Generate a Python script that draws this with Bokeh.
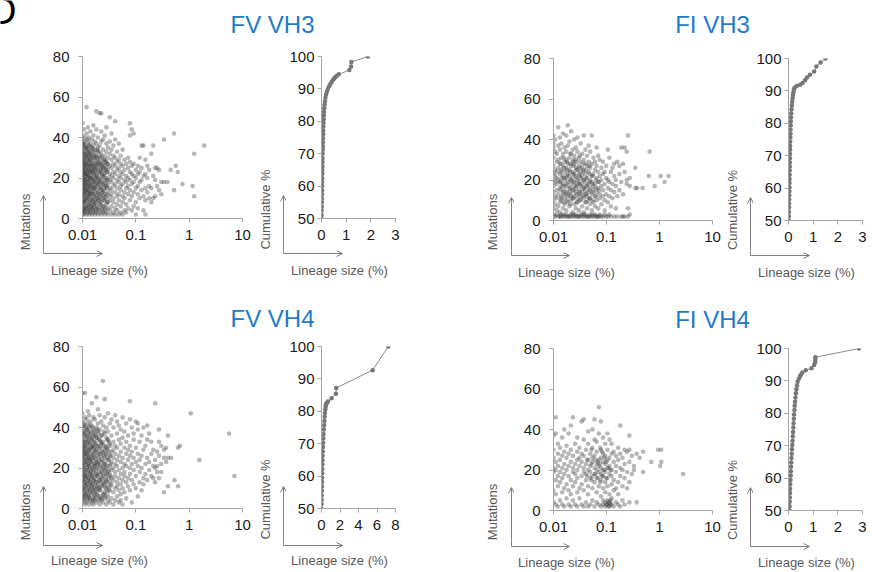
import math
from bokeh.plotting import figure
from bokeh.layouts import column, row
from bokeh.models import Range1d, FixedTicker, Label, Arrow, OpenHead, ColumnDataSource
from bokeh.embed import file_html
from bokeh.resources import INLINE

FONT = "Liberation Sans"
AXIS_GRAY = "#a6a6a6"
LABEL_GRAY = "#595959"
ARROW_GRAY = "#808080"
TITLE_BLUE = "#1f7bc8"
DOT = "#383838"
CUM = "#777777"

panel_titles = ["FV VH3", "FI VH3", "FV VH4", "FI VH4"]
x_label = "Lineage size (%)"
y_label_scatter = "Mutations"
y_label_cum = "Cumulative %"

scatter_ticks = [0.01, 0.1, 1, 10]
scatter_tick_labels = ["0.01", "0.1", "1", "10"]
mut_ticks = [0, 20, 40, 60, 80]
cum_ticks = [50, 60, 70, 80, 90, 100]
cum_x_ticks_3 = [0, 1, 2, 3]
cum_x_ticks_8 = [0, 2, 4, 6, 8]

# ---------------- FV VH3 scatter (lineage size %, mutations per size column) ----
fv3_size = [0.0100, 0.0106, 0.0112, 0.0119, 0.0126, 0.0133, 0.0141, 0.0150, 0.0160, 0.0170,
            0.0182, 0.0195, 0.0210, 0.0225, 0.0242, 0.0260, 0.0280, 0.0300, 0.0325, 0.0350,
            0.0380, 0.0410, 0.0445, 0.0480, 0.0520, 0.0565, 0.0610, 0.0660, 0.0715, 0.0775,
            0.0840, 0.0910, 0.100, 0.109, 0.118, 0.128, 0.139, 0.151, 0.164, 0.178,
            0.195, 0.212, 0.230, 0.250, 0.272, 0.300, 0.337, 0.390, 0.450, 0.520,
            0.560, 0.610, 0.750, 1.16, 1.24, 1.92]
fv3_mut = [
    [2, 3, 4, 6, 8, 9, 11, 12, 14, 15, 17, 18, 19, 21, 22, 24, 25, 27, 28, 30, 32, 34, 36, 39, 41, 47],
    [2, 5, 7, 10, 13, 16, 18, 20, 23, 26, 29, 31, 35, 38, 44],
    [3, 4, 8, 11, 14, 17, 19, 22, 24, 27, 30, 33, 37, 40],
    [2, 6, 9, 12, 15, 18, 21, 23, 26, 28, 32, 35, 42, 55],
    [3, 5, 10, 13, 16, 20, 22, 25, 29, 31, 34, 38, 45],
    [2, 4, 7, 11, 14, 17, 19, 24, 27, 30, 33, 36, 40],
    [3, 6, 9, 12, 15, 18, 21, 23, 26, 29, 32, 37, 43],
    [2, 5, 8, 13, 16, 20, 22, 25, 28, 31, 35, 39],
    [3, 4, 7, 10, 14, 17, 19, 24, 27, 33, 36, 41, 46],
    [2, 6, 9, 12, 15, 18, 21, 23, 26, 30, 34, 38],
    [3, 5, 8, 11, 16, 20, 22, 25, 28, 31, 37, 44, 53],
    [2, 4, 10, 13, 17, 19, 24, 27, 29, 33, 35, 40],
    [3, 7, 9, 12, 15, 18, 22, 26, 30, 36, 52],
    [2, 5, 8, 14, 16, 20, 23, 25, 28, 32, 38, 43, 52],
    [3, 6, 11, 13, 17, 21, 24, 27, 34, 39],
    [2, 4, 9, 12, 15, 19, 22, 26, 29, 31, 41],
    [3, 7, 10, 16, 18, 23, 25, 28, 33, 37, 45],
    [2, 5, 8, 13, 17, 20, 24, 27, 30, 35],
    [4, 9, 11, 15, 19, 22, 26, 32, 38, 50],
    [2, 6, 12, 14, 18, 21, 25, 29, 34, 42],
    [3, 8, 10, 16, 20, 23, 27, 31, 36],
    [2, 5, 13, 17, 22, 26, 30, 39, 48],
    [4, 7, 11, 15, 19, 24, 28, 33],
    [2, 9, 12, 18, 21, 25, 29, 37],
    [3, 6, 14, 16, 20, 23, 27, 31],
    [2, 8, 11, 17, 22, 26, 34],
    [4, 10, 13, 19, 24, 29],
    [3, 7, 15, 18, 21, 27],
    [5, 12, 16, 20, 25, 30],
    [9, 14, 19, 23, 28, 41, 47],
    [4, 11, 17, 22, 26, 44],
    [6, 13, 18, 21, 27, 42],
    [2, 8, 15, 20, 24],
    [5, 12, 16, 22, 26],
    [10, 18, 23, 30],
    [14, 19, 25, 36],
    [4, 11, 21, 36],
    [2, 9, 15, 22, 29],
    [13, 20, 26],
    [10, 16, 24],
    [8, 15, 32],
    [10, 21, 36],
    [11, 19, 25],
    [16, 25],
    [14, 24],
    [12, 18],
    [18, 39],
    [18],
    [24],
    [14, 42],
    [26],
    [23],
    [17],
    [16],
    [11, 32],
    [36],
]
# dense core of the FV VH3 cloud
fv3_core_size = [0.0103, 0.0109, 0.0115, 0.0122, 0.0129, 0.0137, 0.0145, 0.0155, 0.0165,
                 0.0176, 0.0188, 0.0202, 0.0217, 0.0233, 0.0251, 0.0270, 0.0290]
fv3_core_mut = [
    [5, 9, 13, 16, 20, 23, 26, 29, 33, 37],
    [4, 8, 12, 15, 19, 22, 25, 28, 32, 36],
    [6, 10, 14, 17, 21, 24, 27, 31, 35],
    [5, 9, 13, 16, 19, 22, 26, 30, 34, 39],
    [7, 11, 14, 18, 21, 24, 28, 32, 36],
    [4, 8, 12, 16, 20, 23, 26, 29, 33],
    [6, 10, 13, 17, 20, 24, 27, 31, 35],
    [5, 9, 12, 15, 19, 23, 26, 30, 34],
    [7, 11, 15, 18, 22, 25, 29, 32],
    [4, 8, 13, 16, 20, 24, 27, 31],
    [6, 10, 14, 18, 21, 26, 30, 34],
    [5, 9, 12, 17, 20, 23, 28, 33],
    [7, 11, 15, 19, 24, 27, 31],
    [4, 10, 13, 18, 22, 26, 30],
    [6, 9, 14, 17, 21, 25, 29],
    [5, 11, 16, 20, 24, 28],
    [8, 12, 15, 19, 23, 27],
]

# ---------------- FI VH3 scatter ----
fi3_size = [0.0100, 0.0107, 0.0115, 0.0123, 0.0132, 0.0141, 0.0151, 0.0162, 0.0174, 0.0186,
            0.0200, 0.0214, 0.0230, 0.0246, 0.0264, 0.0283, 0.0303, 0.0325, 0.0348, 0.0373,
            0.0400, 0.0429, 0.0460, 0.0493, 0.0528, 0.0566, 0.0607, 0.0650, 0.0697, 0.0747,
            0.0801, 0.0858, 0.0920, 0.0986, 0.106, 0.113, 0.121, 0.130, 0.140, 0.150,
            0.160, 0.175, 0.190, 0.205, 0.220, 0.240, 0.255, 0.275, 0.350, 0.380,
            0.480, 0.630, 0.650, 0.810, 1.05, 1.25, 1.48]
fi3_mut = [
    [2, 3, 6, 10, 14, 17, 20, 23, 27, 31, 36, 38, 42],
    [2, 8, 12, 19, 22, 25, 34, 40],
    [3, 5, 11, 15, 18, 21, 24, 29, 33],
    [2, 7, 13, 20, 26, 30, 37, 46],
    [2, 4, 9, 16, 19, 23, 28, 35, 41],
    [3, 10, 12, 17, 21, 25, 31, 38],
    [2, 6, 14, 18, 22, 27, 33, 43],
    [2, 8, 11, 15, 20, 24, 29, 36],
    [3, 5, 13, 17, 21, 26, 30, 34, 42],
    [2, 9, 12, 19, 23, 28, 37, 47],
    [2, 7, 14, 16, 22, 25, 31, 39],
    [3, 10, 13, 18, 20, 27, 33, 44],
    [2, 4, 11, 15, 21, 24, 29, 35],
    [2, 8, 12, 17, 19, 23, 28, 32, 40],
    [3, 6, 14, 16, 22, 26, 30, 36],
    [2, 9, 11, 18, 20, 25, 34, 41],
    [2, 5, 13, 15, 19, 23, 27, 31],
    [3, 10, 12, 17, 21, 24, 29, 38],
    [2, 7, 14, 18, 22, 26, 33],
    [2, 4, 11, 16, 20, 25, 30, 42],
    [3, 9, 13, 15, 19, 23, 28, 35],
    [2, 6, 12, 17, 21, 27, 32],
    [2, 10, 14, 18, 24, 29, 37],
    [3, 8, 11, 16, 20, 26, 34],
    [2, 5, 13, 19, 22, 28, 42],
    [2, 9, 15, 17, 23, 31],
    [3, 7, 12, 18, 25, 29],
    [2, 10, 14, 21, 27, 36],
    [2, 6, 16, 19, 24, 32],
    [3, 11, 13, 22, 30],
    [2, 8, 17, 20, 26],
    [2, 12, 15, 23, 29],
    [3, 5, 10, 18, 24],
    [2, 13, 21, 27],
    [2, 9, 16, 20, 35],
    [3, 12, 19, 31],
    [2, 7, 15, 24],
    [11, 18, 26],
    [2, 14, 22, 28],
    [6, 17, 20],
    [2, 12, 29],
    [15, 23, 27],
    [2, 19, 36],
    [2, 13, 28],
    [2, 24, 36],
    [18, 20, 34],
    [2, 6, 42],
    [3, 17, 21],
    [16, 26],
    [16],
    [16],
    [22],
    [34],
    [17],
    [22],
    [19],
    [22],
]
fi3_core_size = [0.0137, 0.0157, 0.0180, 0.0207, 0.0238, 0.0273, 0.0314, 0.0361, 0.0414,
                 0.0476, 0.0547, 0.0630, 0.0720]
fi3_core_mut = [
    [2, 11, 15, 19, 24, 28],
    [3, 9, 13, 17, 21, 26, 31],
    [2, 10, 14, 18, 22, 25, 29],
    [2, 8, 12, 16, 20, 24, 28, 33],
    [3, 11, 15, 19, 23, 27, 30],
    [2, 9, 13, 17, 21, 25, 29],
    [2, 10, 14, 18, 22, 26, 32],
    [3, 12, 16, 20, 24, 28],
    [2, 9, 13, 17, 21, 25],
    [2, 11, 15, 19, 23, 27],
    [3, 10, 14, 18, 22],
    [2, 12, 16, 20],
    [2, 15, 19],
]

# ---------------- FV VH4 scatter ----
fv4_size = [0.0100, 0.0106, 0.0112, 0.0119, 0.0126, 0.0133, 0.0141, 0.0150, 0.0160, 0.0170,
            0.0182, 0.0195, 0.0210, 0.0225, 0.0242, 0.0260, 0.0280, 0.0300, 0.0325, 0.0350,
            0.0380, 0.0410, 0.0445, 0.0480, 0.0520, 0.0565, 0.0610, 0.0660, 0.0715, 0.0775,
            0.0840, 0.0910, 0.100, 0.109, 0.118, 0.128, 0.139, 0.151, 0.164, 0.178,
            0.195, 0.212, 0.230, 0.250, 0.272, 0.300, 0.337, 0.370, 0.400, 0.460,
            0.530, 0.620, 0.670, 1.07, 1.55, 5.60, 7.06]
fv4_mut = [
    [3, 5, 7, 9, 12, 14, 16, 18, 20, 22, 24, 26, 28, 30, 32, 35, 37, 40, 43, 47, 57],
    [4, 8, 11, 15, 19, 21, 25, 29, 33, 38, 42],
    [2, 6, 10, 13, 17, 23, 27, 31, 36, 41, 45, 57],
    [3, 7, 12, 16, 20, 24, 28, 34, 39, 44],
    [5, 9, 14, 18, 22, 26, 30, 33, 37, 42, 48],
    [2, 6, 11, 15, 21, 25, 29, 35, 40, 46],
    [4, 8, 13, 17, 19, 23, 27, 32, 38, 43],
    [3, 10, 12, 16, 20, 24, 30, 34, 41, 52],
    [2, 5, 9, 14, 18, 22, 26, 31, 36, 39, 45],
    [4, 7, 11, 15, 21, 25, 28, 33, 37, 44],
    [3, 8, 13, 17, 19, 23, 29, 35, 40, 55],
    [6, 10, 12, 16, 22, 27, 31, 38, 42, 49],
    [2, 5, 9, 14, 20, 24, 30, 34, 39, 46],
    [4, 11, 15, 18, 23, 26, 32, 36, 43],
    [3, 7, 13, 17, 21, 28, 33, 41, 63],
    [5, 8, 12, 19, 22, 25, 29, 37, 45, 54],
    [2, 10, 14, 16, 20, 27, 31, 35, 40],
    [4, 6, 11, 18, 24, 30, 34, 38, 47],
    [3, 9, 13, 17, 21, 26, 32, 42],
    [5, 12, 15, 19, 23, 28, 36, 44],
    [2, 8, 14, 20, 25, 29, 33, 40],
    [4, 10, 16, 18, 22, 27, 31, 46],
    [6, 11, 13, 21, 24, 30, 37, 43],
    [3, 9, 15, 19, 26, 34, 41],
    [4, 7, 12, 17, 23, 28, 32, 39],
    [2, 10, 14, 20, 25, 35, 45],
    [8, 16, 18, 22, 30, 38],
    [5, 13, 21, 27, 33, 42],
    [11, 15, 24, 29, 36],
    [9, 17, 20, 26, 31, 44, 53],
    [3, 14, 22, 28, 40],
    [12, 19, 25, 34, 37],
    [10, 16, 23, 30, 43],
    [6, 21, 27, 39, 42],
    [13, 18, 24, 33],
    [9, 20, 26, 36],
    [12, 15, 29, 40],
    [17, 22, 31],
    [14, 25, 34, 41],
    [19, 23, 37],
    [16, 27, 33],
    [15, 21, 29],
    [13, 20, 24, 52],
    [18, 21, 28],
    [15, 26, 33, 39],
    [18, 22, 31],
    [8, 25, 29],
    [23, 30],
    [11, 25, 36],
    [25],
    [14],
    [11, 30],
    [31],
    [47],
    [24],
    [37],
    [16],
]
fv4_core_size = [0.0103, 0.0109, 0.0115, 0.0122, 0.0129, 0.0137, 0.0145, 0.0155, 0.0165,
                 0.0176, 0.0188, 0.0202, 0.0217, 0.0233, 0.0251, 0.0270, 0.0290, 0.0312,
                 0.0337]
fv4_core_mut = [
    [6, 10, 14, 17, 21, 25, 28, 31, 34, 38, 41],
    [5, 9, 13, 16, 19, 23, 27, 30, 33, 37],
    [7, 11, 15, 18, 22, 26, 29, 32, 36, 40],
    [4, 8, 12, 16, 20, 24, 27, 31, 35, 39],
    [6, 10, 14, 19, 22, 25, 28, 33, 38],
    [5, 9, 13, 17, 21, 24, 29, 32, 36, 41],
    [7, 11, 15, 18, 23, 26, 30, 34, 37],
    [4, 8, 12, 16, 20, 25, 28, 31, 35, 40],
    [6, 10, 14, 19, 22, 27, 30, 33, 38],
    [5, 9, 13, 17, 21, 24, 29, 32, 36],
    [7, 11, 16, 20, 23, 26, 31, 35, 39],
    [4, 10, 14, 18, 22, 25, 28, 34, 37],
    [6, 9, 13, 17, 21, 27, 30, 33],
    [5, 11, 15, 19, 24, 28, 32, 36],
    [7, 12, 16, 20, 23, 26, 31, 38],
    [6, 10, 14, 18, 22, 27, 30],
    [8, 13, 17, 21, 25, 29, 34],
    [9, 15, 19, 24, 28, 33],
    [11, 16, 22, 26, 31],
]

# ---------------- FI VH4 scatter ----
fi4_size = [0.0100, 0.0110, 0.0121, 0.0133, 0.0146, 0.0160, 0.0176, 0.0193, 0.0212, 0.0233,
            0.0256, 0.0281, 0.0309, 0.0339, 0.0372, 0.0409, 0.0449, 0.0493, 0.0541, 0.0594,
            0.0652, 0.0716, 0.0786, 0.0863, 0.0948, 0.104, 0.114, 0.125, 0.137, 0.151,
            0.166, 0.182, 0.200, 0.220, 0.245, 0.270, 0.300, 0.330, 0.370, 0.420,
            0.490, 0.700, 0.940, 1.03, 1.08, 2.79]
fi4_mut = [
    [4, 10, 19, 21, 26, 30, 37],
    [3, 8, 15, 20, 24, 38, 46],
    [2, 12, 17, 22, 28, 33],
    [5, 14, 19, 25, 31],
    [3, 9, 16, 21, 27, 36],
    [2, 11, 18, 23, 29, 40],
    [6, 13, 20, 26, 32],
    [3, 10, 17, 22, 28, 38],
    [2, 8, 15, 24, 30, 42],
    [5, 12, 19, 21, 27, 46],
    [3, 14, 18, 23, 33],
    [2, 9, 16, 20, 25, 29, 36],
    [6, 11, 22, 26, 31],
    [3, 13, 17, 24, 28, 44],
    [2, 10, 19, 21, 27, 35, 45],
    [4, 15, 18, 23, 30],
    [2, 8, 12, 20, 25, 33, 39],
    [3, 16, 19, 22, 28],
    [5, 11, 17, 24, 26, 31, 40],
    [2, 14, 18, 21, 27, 35, 45],
    [4, 9, 16, 20, 23, 29, 34],
    [3, 12, 19, 22, 25, 38, 51],
    [2, 7, 15, 18, 21, 26, 30, 44],
    [3, 5, 11, 17, 20, 24, 28, 36],
    [2, 4, 9, 14, 19, 23, 27, 33],
    [3, 5, 12, 16, 21, 25, 30, 38],
    [2, 4, 8, 18, 22, 26, 35],
    [3, 6, 13, 17, 20, 28, 33],
    [2, 10, 15, 24, 29],
    [4, 11, 19, 22, 27],
    [3, 8, 14, 25, 31],
    [2, 17, 21, 28, 42],
    [5, 12, 20, 26],
    [3, 16, 23, 30],
    [11, 19, 29],
    [4, 14, 24, 30, 37],
    [18, 27],
    [20, 22],
    [4, 28],
    [26],
    [19, 29],
    [24],
    [30],
    [22],
    [24, 30],
    [18],
]
fi4_core_size = [0.0430, 0.0520, 0.0620, 0.0690, 0.0760, 0.0830, 0.0910, 0.0990, 0.109, 0.119]
fi4_core_mut = [
    [17, 25],
    [15, 23, 30],
    [18, 25],
    [16, 24],
    [14, 23, 31],
    [17, 29],
    [20, 26],
    [3, 16, 24],
    [2, 4, 21],
    [3, 5, 20],
]

# ---------------- cumulative curves (lineage size %, cumulative %) ----
fv3_cum_x = [0.00, 0.004, 0.008, 0.011, 0.014, 0.017, 0.02, 0.023, 0.026, 0.029,
             0.031, 0.033, 0.035, 0.037, 0.04, 0.043, 0.046, 0.05, 0.054, 0.058,
             0.062, 0.066, 0.07, 0.075, 0.08, 0.086, 0.093, 0.10, 0.11, 0.125,
             0.14, 0.16, 0.185, 0.22, 0.26, 0.31, 0.36, 0.41, 0.46, 0.51,
             0.56, 0.61, 0.70, 1.13, 1.20, 1.21, 1.88]
fv3_cum_y = [50.0, 51.1, 52.5, 53.6, 55.0, 56.2, 57.5, 58.7, 60.0, 61.3,
             62.4, 63.8, 65.0, 66.1, 67.4, 68.6, 70.0, 71.2, 72.3, 73.5,
             74.8, 76.0, 77.1, 78.3, 79.5, 80.6, 81.8, 82.9, 84.0, 85.1,
             86.2, 87.3, 88.3, 89.2, 90.0, 90.8, 91.5, 92.1, 92.7, 93.2,
             93.6, 94.0, 94.5, 95.8, 96.9, 98.3, 100.0]

fi3_cum_x = [0.01, 0.014, 0.018, 0.022, 0.025, 0.028, 0.031, 0.034, 0.037, 0.04,
             0.043, 0.046, 0.049, 0.052, 0.055, 0.058, 0.061, 0.064, 0.067, 0.07,
             0.074, 0.078, 0.083, 0.088, 0.094, 0.10, 0.11, 0.12, 0.135, 0.15,
             0.165, 0.18, 0.20, 0.22, 0.25, 0.33, 0.47, 0.57, 0.67, 0.75,
             0.87, 1.04, 1.13, 1.30, 1.50]
fi3_cum_y = [50.0, 51.3, 52.6, 54.0, 55.2, 56.5, 57.8, 59.0, 60.3, 61.6,
             62.8, 64.1, 65.4, 66.7, 67.9, 69.2, 70.5, 71.8, 73.0, 74.3,
             75.6, 76.8, 78.1, 79.4, 80.6, 81.9, 83.1, 84.3, 85.5, 86.6,
             87.7, 88.7, 89.6, 90.4, 91.0, 91.5, 91.9, 92.4, 93.3, 94.1,
             95.0, 96.0, 97.5, 98.8, 100.0]

fv4_cum_x = [0.00, 0.01, 0.02, 0.03, 0.04, 0.05, 0.06, 0.065, 0.075, 0.085,
             0.095, 0.11, 0.12, 0.14, 0.16, 0.18, 0.20, 0.22, 0.25, 0.28,
             0.31, 0.34, 0.37, 0.41, 0.45, 0.50, 0.56, 0.70, 1.09, 1.56,
             1.59, 5.53, 7.22]
fv4_cum_y = [50.0, 51.4, 52.7, 54.1, 55.5, 56.8, 58.2, 59.5, 60.9, 62.2,
             63.6, 64.9, 66.3, 67.6, 69.0, 70.3, 71.7, 73.0, 74.4, 75.7,
             77.0, 78.3, 79.5, 80.6, 81.5, 82.2, 82.6, 83.0, 84.0, 85.4,
             87.2, 92.7, 100.0]

fi4_cum_x = [0.04, 0.045, 0.05, 0.055, 0.06, 0.065, 0.07, 0.08, 0.09, 0.095,
             0.10, 0.11, 0.12, 0.13, 0.14, 0.155, 0.165, 0.175, 0.185, 0.195,
             0.205, 0.215, 0.225, 0.24, 0.25, 0.265, 0.28, 0.30, 0.32, 0.345,
             0.37, 0.42, 0.47, 0.51, 0.56, 0.70, 0.93, 1.04, 1.08, 1.09,
             1.09, 2.86]
fi4_cum_y = [50.0, 51.3, 52.7, 54.0, 55.4, 56.7, 58.1, 59.4, 60.8, 62.1,
             63.5, 64.8, 66.2, 67.5, 68.9, 70.2, 71.5, 72.9, 74.2, 75.6,
             76.9, 78.3, 79.6, 81.0, 82.3, 83.6, 84.9, 86.2, 87.4, 88.6,
             89.7, 90.7, 91.5, 92.0, 92.6, 93.3, 93.9, 94.9, 95.7, 96.5,
             97.3, 100.0]


def expand(*pairs):
    xs, ys = [], []
    for sizes, muts in pairs:
        for s, ms in zip(sizes, muts):
            for m in ms:
                xs.append(s)
                ys.append(m)
    return xs, ys


def style(p, ystandoff):
    p.outline_line_color = None
    p.xgrid.visible = False
    p.ygrid.visible = False
    for ax in p.axis:
        ax.axis_line_color = AXIS_GRAY
        ax.major_tick_line_color = AXIS_GRAY
        ax.minor_tick_line_color = None
        ax.major_tick_in = 0
        ax.major_tick_out = 4
        ax.major_label_text_font = FONT
        ax.major_label_text_font_size = "15px"
        ax.major_label_text_color = "#1a1a1a"
    p.xaxis.major_label_standoff = 7
    p.yaxis.major_label_standoff = ystandoff


def base_fig(width, height, bl, br, bt, bb, xr, yr, xtype="linear"):
    return figure(width=width, height=height, min_border_left=bl, min_border_right=br,
                  min_border_top=bt, min_border_bottom=bb, x_range=xr, y_range=yr,
                  x_axis_type=xtype, output_backend="svg", toolbar_location=None,
                  title=None)


def deco_fig(x0, y0, w, h):
    """Empty canvas (frame == canvas) for texts and arrows; returns (fig, origin)."""
    p = figure(width=w, height=h, x_range=Range1d(0, 1), y_range=Range1d(0, 1),
               min_border=0, output_backend="svg", toolbar_location=None, title=None,
               x_axis_location=None, y_axis_location=None)
    p.outline_line_color = None
    p.xgrid.visible = False
    p.ygrid.visible = False
    return p, (x0, y0 + h)


def add_text(p, frame, px, py, text, size="13px", color=LABEL_GRAY, rotate=False,
             align="center", baseline="middle"):
    fl, fb = frame
    p.add_layout(Label(x=px - fl, y=fb - py, x_units="screen", y_units="screen",
                       text=text, text_font=FONT, text_font_size=size,
                       text_color=color, text_align=align, text_baseline=baseline,
                       angle=math.pi / 2 if rotate else 0))


def add_arrow(p, frame, x1, y1, x2, y2, head=True):
    fl, fb = frame
    end = OpenHead(size=6, line_color=ARROW_GRAY, line_width=1) if head else None
    p.add_layout(Arrow(x_start=x1 - fl, y_start=fb - y1, x_end=x2 - fl, y_end=fb - y2,
                       start_units="screen", end_units="screen",
                       line_color=ARROW_GRAY, line_width=1, end=end))


def scatter_fig(pairs, width, height, bl, br, bt, bb):
    p = base_fig(width, height, bl, br, bt, bb, Range1d(0.01, 10), Range1d(0, 80), "log")
    xs, ys = expand(*pairs)
    src = ColumnDataSource(data=dict(size=xs, mut=ys))
    p.scatter("size", "mut", source=src, size=4.6, fill_color=DOT, fill_alpha=0.36,
              line_color=None)
    p.xaxis.ticker = FixedTicker(ticks=scatter_ticks)
    p.xaxis.major_label_overrides = dict(zip(scatter_ticks, scatter_tick_labels))
    p.yaxis.ticker = FixedTicker(ticks=mut_ticks)
    style(p, 9)
    return p


def cum_fig(cx, cy, xmax, xticks, width, height, bl, br, bt, bb):
    p = base_fig(width, height, bl, br, bt, bb, Range1d(0, xmax), Range1d(50, 100))
    src = ColumnDataSource(data=dict(size=cx, cum=cy))
    p.line("size", "cum", source=src, line_color="#8c8c8c", line_width=1)
    p.scatter("size", "cum", source=src, size=4.5, fill_color=CUM, line_color=None)
    p.xaxis.ticker = FixedTicker(ticks=xticks)
    p.yaxis.ticker = FixedTicker(ticks=cum_ticks)
    style(p, 3)
    return p


# page columns: (side strip x, side width, plot x, plot width)
XS = [(0, 46, 46, 208), (254, 32, 286, 184), (470, 44, 514, 210), (724, 29, 753, 119)]


def build_rows(y0, h, strip_h, mains, decos):
    """mains: 4 plots; decos: per panel (ylabel, (lx, ly), (bx, by), (ox, oy, top, right))."""
    children = []
    strip, sf = deco_fig(0, y0 + h, 872, strip_h)
    for (xs, ws, xm, wm), main, (ylab, ypos, xpos, arr) in zip(XS, mains, decos):
        side, cf = deco_fig(xs, y0, ws, h)
        ox, oy, top, right = arr
        add_text(side, cf, ypos[0], ypos[1], ylab, rotate=True)
        add_arrow(side, cf, ox, y0 + h + 1, ox, top)
        add_arrow(strip, sf, ox, oy, ox, y0 + h - 1, head=False)
        add_arrow(strip, sf, ox, oy, right, oy)
        add_text(strip, sf, xpos[0], xpos[1], x_label)
        children += [side, column(main)]
    return row(*children), strip


# ---------------- title strips ----------------
t1, t1f = deco_fig(0, 0, 872, 42)
add_text(t1, t1f, 272, 24, panel_titles[0], size="24px", color=TITLE_BLUE)
add_text(t1, t1f, 712, 24, panel_titles[1], size="24px", color=TITLE_BLUE)
add_text(t1, t1f, 16, 10.5, "D", size="38px", color="#000000", align="right",
         baseline="middle")

t2, t2f = deco_fig(0, 290, 872, 46)
add_text(t2, t2f, 272, 318, panel_titles[2], size="24px", color=TITLE_BLUE)
add_text(t2, t2f, 712, 319, panel_titles[3], size="24px", color=TITLE_BLUE)

# ---------------- top row: plots page y 42..250, strip 250..290 ----------------
top_mains = [
    scatter_fig([(fv3_size, fv3_mut), (fv3_core_size, fv3_core_mut)], 208, 208, 36, 12, 14, 32),
    cum_fig(fv3_cum_x, fv3_cum_y, 3, cum_x_ticks_3, 184, 208, 34, 75, 14, 32),
    scatter_fig([(fi3_size, fi3_mut), (fi3_core_size, fi3_core_mut)], 210, 208, 39, 12, 16, 30),
    cum_fig(fi3_cum_x, fi3_cum_y, 3, cum_x_ticks_3, 119, 208, 34, 10, 16, 30),
]
top_decos = [
    (y_label_scatter, (25, 221.5), (99, 270), (43, 253, 195, 102)),
    (y_label_cum, (265, 209), (339, 270), (283, 253, 195, 342)),
    (y_label_scatter, (492, 221.5), (566, 272), (511, 255, 197, 569)),
    (y_label_cum, (732, 209.5), (806, 272), (750, 255, 197, 809)),
]
top_row, top_strip = build_rows(42, 208, 40, top_mains, top_decos)

# ---------------- bottom row: plots page y 336..540, strip 540..572 ----------------
bot_mains = [
    scatter_fig([(fv4_size, fv4_mut), (fv4_core_size, fv4_core_mut)], 208, 204, 36, 12, 10, 32),
    cum_fig(fv4_cum_x, fv4_cum_y, 8, cum_x_ticks_8, 184, 204, 34, 75, 10, 32),
    scatter_fig([(fi4_size, fi4_mut), (fi4_core_size, fi4_core_mut)], 210, 204, 39, 12, 12, 30),
    cum_fig(fi4_cum_x, fi4_cum_y, 3, cum_x_ticks_3, 119, 204, 34, 10, 12, 30),
]
bot_decos = [
    (y_label_scatter, (25, 511.5), (99, 560), (43, 545, 486, 102)),
    (y_label_cum, (265, 499), (339, 560), (283, 545, 486, 342)),
    (y_label_scatter, (492, 511.5), (566, 562), (511, 546, 487, 569)),
    (y_label_cum, (732, 499.5), (806, 562), (750, 546, 487, 809)),
]
bot_row, bot_strip = build_rows(336, 204, 32, bot_mains, bot_decos)

layout = column(t1, top_row, top_strip, t2, bot_row, bot_strip)
open("out.html", "w").write(file_html(layout, INLINE))
